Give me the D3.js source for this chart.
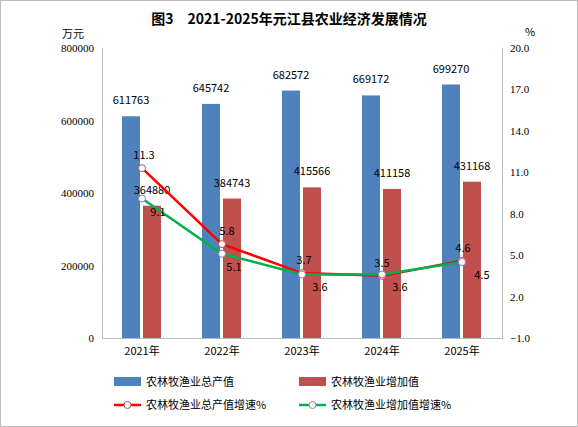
<!DOCTYPE html>
<html><head><meta charset="utf-8">
<script src="https://cdn.jsdelivr.net/npm/d3@7"></script>
<style>body{margin:0;background:#fff}text{font-family:"Noto Sans CJK SC","DejaVu Sans",sans-serif}</style>
</head><body><svg id="c" width="578" height="427"></svg>
<script>
var years = ["2021年", "2022年", "2023年", "2024年", "2025年"];
var totalOutput = [611763, 645742, 682572, 669172, 699270];
var addedValue = [364880, 384743, 415566, 411158, 431168];
var totalGrowth = [11.3, 5.8, 3.7, 3.5, 4.6];
var addedGrowth = [9.1, 5.1, 3.6, 3.6, 4.5];
var leftTicks = [0, 200000, 400000, 600000, 800000];
var rightTicks = [-1, 2, 5, 8, 11, 14, 17, 20];

var svg = d3.select("#c");
svg.append("rect").attr("x", 0.5).attr("y", 0.5).attr("width", 577).attr("height", 426)
  .attr("fill", "#fff").attr("stroke", "#bbb");

var x = d3.scaleBand().domain(years).range([102, 502]);
var yL = d3.scaleLinear().domain([0, 800000]).range([338, 48]);
var yR = d3.scaleLinear().domain([-1, 20]).range([338, 48]);

svg.append("text").attr("x", 289).attr("y", 24).attr("text-anchor", "middle")
  .attr("font-size", 14).attr("font-weight", "bold").text("图3　2021-2025年元江县农业经济发展情况");
svg.append("text").attr("x", 73).attr("y", 38).attr("text-anchor", "middle").attr("font-size", 11).text("万元");
svg.append("text").attr("x", 530).attr("y", 36).attr("text-anchor", "middle").attr("font-size", 11).text("%");

// axes
var axL = svg.append("g").attr("transform", "translate(102,0)")
  .call(d3.axisLeft(yL).tickValues(leftTicks).tickSize(0).tickPadding(8).tickFormat(d3.format("d")));
var axR = svg.append("g").attr("transform", "translate(502,0)")
  .call(d3.axisRight(yR).tickValues(rightTicks).tickSize(0).tickPadding(8).tickFormat(d3.format(".1f")));
var axB = svg.append("g").attr("transform", "translate(0,338)")
  .call(d3.axisBottom(x).tickSize(0).tickPadding(9));
[axL, axR, axB].forEach(function (g) {
  g.select(".domain").attr("stroke", "#bbb");
  g.selectAll("text").attr("font-size", 11).attr("fill", "#000").style("font-family", "'Liberation Serif','DejaVu Serif',serif");
});
axB.selectAll("text").style("font-family", "'Noto Sans CJK SC',sans-serif").attr("font-size", 11);

var bw = 18;
svg.selectAll(".b1").data(totalOutput).join("rect")
  .attr("x", function (d, i) { return x(years[i]) + 40 - bw - 2; })
  .attr("y", function (d) { return yL(d); }).attr("width", bw)
  .attr("height", function (d) { return 338 - yL(d); }).attr("fill", "#4f81bd");
svg.selectAll(".b2").data(addedValue).join("rect")
  .attr("x", function (d, i) { return x(years[i]) + 40 + 1; })
  .attr("y", function (d) { return yL(d); }).attr("width", bw)
  .attr("height", function (d) { return 338 - yL(d); }).attr("fill", "#c0504d");

svg.selectAll(".l1").data(totalOutput).join("text")
  .attr("x", function (d, i) { return x(years[i]) + 40 - bw / 2 - 2; })
  .attr("y", function (d) { return yL(d) - 12; }).attr("text-anchor", "middle").attr("font-size", 11).text(function (d) { return d; });
svg.selectAll(".l2").data(addedValue).join("text")
  .attr("x", function (d, i) { return x(years[i]) + 40 + bw / 2 + 1; })
  .attr("y", function (d) { return yL(d) - 12; }).attr("text-anchor", "middle").attr("font-size", 11).text(function (d) { return d; });

var cx = function (d, i) { return x(years[i]) + 40; };
var line = d3.line().x(function (d, i) { return x(years[i]) + 40; }).y(function (d) { return yR(d); });
svg.append("path").datum(totalGrowth).attr("d", line).attr("fill", "none").attr("stroke", "#ff0000").attr("stroke-width", 2.5);
svg.append("path").datum(addedGrowth).attr("d", line).attr("fill", "none").attr("stroke", "#00b050").attr("stroke-width", 2.5);
[totalGrowth, addedGrowth].forEach(function (s, k) {
  svg.selectAll(null).data(s).join("circle").attr("cx", cx).attr("cy", function (d) { return yR(d); })
    .attr("r", 3.5).attr("fill", "#fff").attr("stroke", k ? "#9b7bb5" : "#c0504d").attr("stroke-width", 1);
});
svg.selectAll(null).data(totalGrowth).join("text")
  .attr("x", function (d, i) { return x(years[i]) + 40 + [2, 5, 2, 0, 1][i]; })
  .attr("y", function (d) { return yR(d) - 9; }).attr("text-anchor", "middle").attr("font-size", 11).text(function (d) { return d.toFixed(1); });
svg.selectAll(null).data(addedGrowth).join("text")
  .attr("x", function (d, i) { return x(years[i]) + 40 + [16, 12, 18, 18, 20][i]; })
  .attr("y", function (d) { return yR(d) + 17; }).attr("text-anchor", "middle").attr("font-size", 11).text(function (d) { return d.toFixed(1); });

// legend
var lg = svg.append("g").attr("font-size", 11);
lg.append("rect").attr("x", 114).attr("y", 377).attr("width", 27).attr("height", 9).attr("fill", "#4f81bd");
lg.append("text").attr("x", 146).attr("y", 386).text("农林牧渔业总产值");
lg.append("rect").attr("x", 299).attr("y", 377).attr("width", 27).attr("height", 9).attr("fill", "#c0504d");
lg.append("text").attr("x", 331).attr("y", 386).text("农林牧渔业增加值");
lg.append("line").attr("x1", 114).attr("x2", 141).attr("y1", 405).attr("y2", 405).attr("stroke", "#ff0000").attr("stroke-width", 2.5);
lg.append("circle").attr("cx", 127.5).attr("cy", 405).attr("r", 3.5).attr("fill", "#fff").attr("stroke", "#c0504d");
lg.append("text").attr("x", 146).attr("y", 409).text("农林牧渔业总产值增速%");
lg.append("line").attr("x1", 299).attr("x2", 326).attr("y1", 405).attr("y2", 405).attr("stroke", "#00b050").attr("stroke-width", 2.5);
lg.append("circle").attr("cx", 312.5).attr("cy", 405).attr("r", 3.5).attr("fill", "#fff").attr("stroke", "#9b7bb5");
lg.append("text").attr("x", 331).attr("y", 409).text("农林牧渔业增加值增速%");
</script></body></html>
